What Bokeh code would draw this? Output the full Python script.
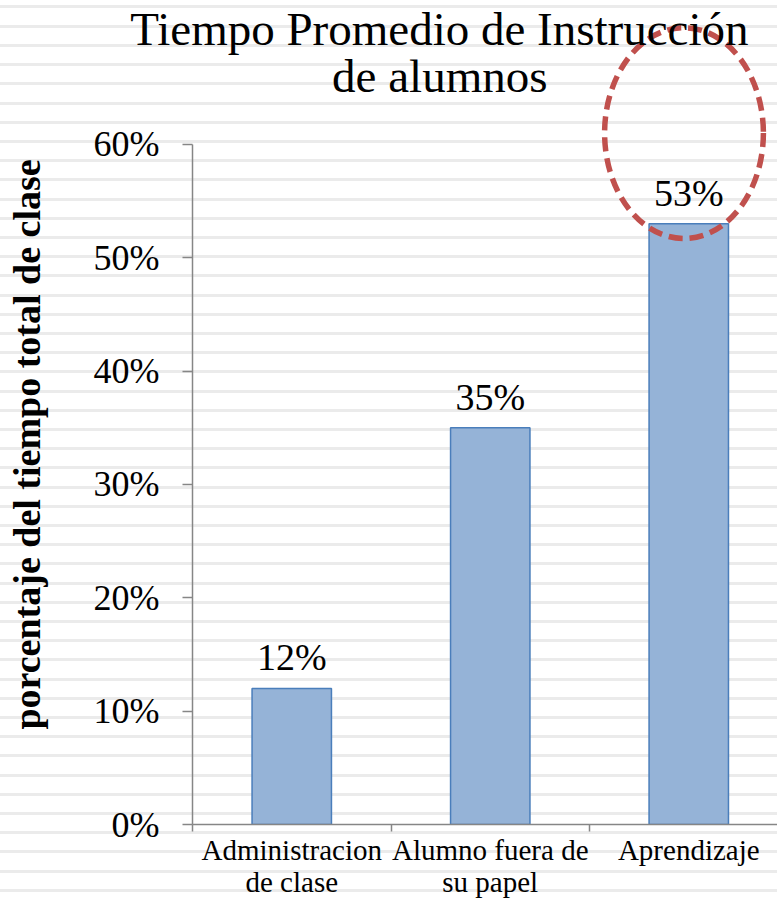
import math
from bokeh.plotting import figure
from bokeh.models import Range1d, FixedTicker, Title, Label, InlineStyleSheet, NumeralTickFormatter
from bokeh.embed import file_html
from bokeh.resources import INLINE
from bokeh.core.properties import value

# ---- data ----
categories = ["Administracion\nde clase", "Alumno fuera de\nsu papel", "Aprendizaje"]
values = [0.12, 0.35, 0.53]
value_labels = ["12%", "35%", "53%"]
y_ticks = [0.0, 0.1, 0.2, 0.3, 0.4, 0.5, 0.6]
title_lines = ["Tiempo Promedio de Instrucción", "de alumnos"]
y_title = "porcentaje del tiempo total de clase"

x_centers = [i + 0.5 for i in range(len(categories))]
x_bounds = [i for i in range(len(categories) + 1)]

SERIF = "Liberation Serif"
AXIS_GRAY = "#868686"

p = figure(width=777, height=900, output_backend="svg", toolbar_location=None,
           x_range=Range1d(0, 2.947), y_range=Range1d(0, 0.727),
           min_border_left=192, min_border_right=0, min_border_top=0,
           min_border_bottom=76,
           background_fill_color=None, border_fill_color=None,
           outline_line_color=None)
p.grid.visible = False

p.stylesheets = [InlineStyleSheet(css=(
    ":host { background: repeating-linear-gradient(to bottom, "
    "#ffffff 0px, #ffffff 5.5px, #ebebeb 5.5px, #ebebeb 8.5px, "
    "#ffffff 8.5px, #ffffff 19.2px); }"))]

# y axis
ya = p.yaxis[0]
ya.ticker = FixedTicker(ticks=y_ticks, minor_ticks=[])
ya.formatter = NumeralTickFormatter(format="0%")
ya.bounds = (y_ticks[0], y_ticks[-1])
ya.axis_line_color = AXIS_GRAY
ya.axis_line_width = 1.5
ya.major_tick_line_color = AXIS_GRAY
ya.major_tick_line_width = 1.5
ya.major_tick_out = 10
ya.major_tick_in = 0
ya.major_label_standoff = 23
ya.major_label_text_font = SERIF
ya.major_label_text_font_size = "36px"
ya.major_label_text_color = "black"

# y axis title (rotated label in the left panel)
p.add_layout(Label(x=-22, y=380, x_units="screen", y_units="screen",
                   text=y_title, angle=math.pi / 2,
                   text_align="center", text_baseline="middle",
                   text_font=SERIF, text_font_style="bold",
                   text_font_size="38px", text_color="black"), "left")

# x axis
xa = p.xaxis[0]
xa.ticker = FixedTicker(ticks=x_centers, minor_ticks=x_bounds)
xa.major_label_overrides = {x: c for x, c in zip(x_centers, categories)}
xa.axis_line_color = AXIS_GRAY
xa.axis_line_width = 1.5
xa.major_tick_line_color = None
xa.major_tick_out = 0
xa.major_tick_in = 0
xa.minor_tick_line_color = AXIS_GRAY
xa.minor_tick_line_width = 1.5
xa.minor_tick_out = 7
xa.minor_tick_in = 0
xa.major_label_standoff = 2
xa.major_label_text_font = SERIF
xa.major_label_text_font_size = "29px"
xa.major_label_text_color = "black"
xa.major_label_text_line_height = 1.0

# bars
p.vbar(x=x_centers, top=values, bottom=0, width=0.4,
       fill_color="#95b3d7", line_color="#4a7ebb", line_width=1.5)

# value labels
p.text(x=x_centers, y=values, text=value_labels, text_align="center",
       text_baseline="alphabetic", y_offset=-31,
       text_font=value(SERIF), text_font_size="38px", text_color="black")

# highlight ellipse around the largest value
hi = values.index(max(values))
p.ellipse(x=[x_centers[hi] - 0.024], y=[values[hi] + 0.080], width=0.80, height=0.186,
          fill_color=None, line_color="#c0504d", line_width=5.5, line_dash="14 7")

# chart title: two lines, right-anchored, overlaid on the top of the frame
p.add_layout(Title(text=title_lines[0], align="right", offset=29, standoff=-108,
                   vertical_align="bottom", text_font_style="normal",
                   text_font=SERIF, text_font_size="47px", text_color="black"), "above")
p.add_layout(Title(text=title_lines[1], align="right", offset=230, standoff=-202,
                   vertical_align="bottom", text_font_style="normal",
                   text_font=SERIF, text_font_size="47px", text_color="black"), "above")

open("out.html", "w").write(file_html(p, INLINE))
